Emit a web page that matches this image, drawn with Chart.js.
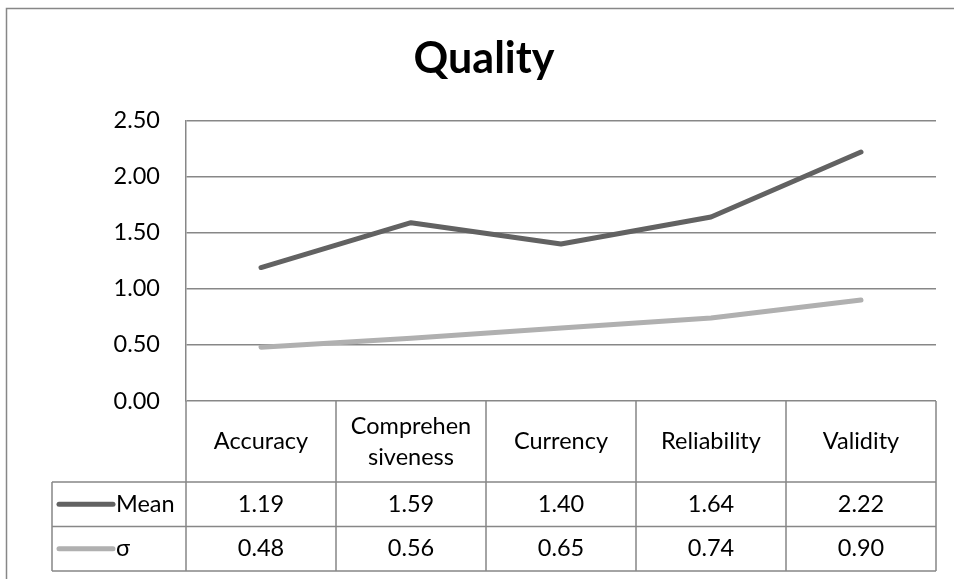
<!DOCTYPE html>
<html>
<head>
<meta charset="utf-8">
<title>Quality</title>
<script src="https://cdn.jsdelivr.net/npm/chart.js@4"></script>
<style>
  html, body { margin: 0; padding: 0; background: #ffffff; }
  #wrap { width: 954px; height: 579px; }
  canvas { display: block; }
</style>
</head>
<body>
<div id="wrap"><canvas id="chart" width="954" height="579"></canvas></div>
<script>
// Categories and series values
const categories = ['Accuracy', ['Comprehen', 'siveness'], 'Currency', 'Reliability', 'Validity'];
const meanValues = [1.19, 1.59, 1.40, 1.64, 2.22];
const sigmaValues = [0.48, 0.56, 0.65, 0.74, 0.90];
const seriesNames = ['Mean', 'σ'];
const yTickValues = [0, 0.5, 1, 1.5, 2, 2.5];

const FONT = "Lato, 'Noto Sans', 'DejaVu Sans', sans-serif";
const TEXT_SIZE = 23.5;
const LINE_GREY = '#878787';
const SERIES_COLORS = ['#626262', '#b0b0b0'];

// Frame around the whole chart (left and top edges are visible)
const framePlugin = {
  id: 'frame',
  beforeDraw(chart) {
    const ctx = chart.ctx;
    ctx.save();
    ctx.strokeStyle = LINE_GREY;
    ctx.lineWidth = 1.5;
    ctx.beginPath();
    ctx.moveTo(6.5, chart.height + 2);
    ctx.lineTo(6.5, 8.5);
    ctx.lineTo(chart.width + 2, 8.5);
    ctx.stroke();
    ctx.restore();
  }
};

// Data table under the plot: category row, then one row per series
const dataTablePlugin = {
  id: 'dataTable',
  afterDraw(chart) {
    const ctx = chart.ctx;
    const x = chart.scales.x;
    const area = chart.chartArea;
    const colW = (area.right - area.left) / categories.length;
    const headerH = 81;
    const rowH = 44.5;
    const legendLeft = 52;
    const top = area.bottom;
    const rowsTop = top + headerH;
    const bottom = rowsTop + rowH * seriesNames.length;

    ctx.save();
    ctx.strokeStyle = LINE_GREY;
    ctx.lineWidth = 1.5;
    ctx.beginPath();
    // vertical column boundaries
    for (let i = 0; i <= categories.length; i++) {
      const px = i === categories.length ? area.right : x.getPixelForValue(i) - colW / 2;
      ctx.moveTo(px, top);
      ctx.lineTo(px, bottom);
    }
    // legend cell left edge
    ctx.moveTo(legendLeft, rowsTop);
    ctx.lineTo(legendLeft, bottom);
    // horizontal row lines
    for (let r = 0; r <= seriesNames.length; r++) {
      const py = rowsTop + r * rowH;
      ctx.moveTo(legendLeft, py);
      ctx.lineTo(area.right, py);
    }
    ctx.stroke();

    ctx.fillStyle = '#000000';
    ctx.font = TEXT_SIZE + 'px ' + FONT;
    ctx.textAlign = 'center';
    ctx.textBaseline = 'middle';

    // category labels
    const headMid = top + headerH / 2;
    categories.forEach((c, i) => {
      const cx = x.getPixelForValue(i);
      const lines = Array.isArray(c) ? c : [c];
      const lh = 31;
      lines.forEach((t, k) => {
        ctx.fillText(t, cx, headMid + (k - (lines.length - 1) / 2) * lh);
      });
    });

    // series rows
    const series = [meanValues, sigmaValues];
    series.forEach((vals, r) => {
      const cy = rowsTop + r * rowH + rowH / 2;
      vals.forEach((v, i) => {
        ctx.fillText(v.toFixed(2), x.getPixelForValue(i), cy);
      });
      // legend key
      ctx.save();
      ctx.strokeStyle = SERIES_COLORS[r];
      ctx.lineWidth = 5;
      ctx.lineCap = 'round';
      ctx.beginPath();
      ctx.moveTo(59, cy);
      ctx.lineTo(113, cy);
      ctx.stroke();
      ctx.restore();
      ctx.textAlign = 'left';
      ctx.fillText(seriesNames[r], 116, cy);
      ctx.textAlign = 'center';
    });
    ctx.restore();
  }
};

new Chart(document.getElementById('chart'), {
  type: 'line',
  data: {
    labels: categories,
    datasets: [
      {
        label: seriesNames[0],
        data: meanValues,
        borderColor: SERIES_COLORS[0],
        backgroundColor: SERIES_COLORS[0],
        borderWidth: 5,
        pointRadius: 0,
        tension: 0,
        borderCapStyle: 'round',
        borderJoinStyle: 'round'
      },
      {
        label: seriesNames[1],
        data: sigmaValues,
        borderColor: SERIES_COLORS[1],
        backgroundColor: SERIES_COLORS[1],
        borderWidth: 5,
        pointRadius: 0,
        tension: 0,
        borderCapStyle: 'round',
        borderJoinStyle: 'round'
      }
    ]
  },
  options: {
    responsive: false,
    devicePixelRatio: 1,
    animation: false,
    layout: { padding: { left: 32, right: 18, top: 0, bottom: 178 } },
    plugins: {
      legend: { display: false },
      tooltip: { enabled: false },
      title: {
        display: true,
        text: 'Quality',
        color: '#000000',
        font: { family: FONT, size: 43, weight: 'bold', lineHeight: 1.2 },
        padding: { top: 33, bottom: 36 }
      }
    },
    scales: {
      x: {
        type: 'category',
        offset: true,
        display: false
      },
      y: {
        min: 0,
        max: 2.5,
        afterFit(scale) { scale.width = 154; },
        afterBuildTicks(scale) { scale.ticks = yTickValues.map(v => ({ value: v })); },
        ticks: {
          color: '#000000',
          font: { family: FONT, size: TEXT_SIZE },
          padding: 26,
          callback: v => Number(v).toFixed(2)
        },
        grid: { color: LINE_GREY, lineWidth: 1.5, drawTicks: false },
        border: { display: true, color: LINE_GREY, width: 1.5 }
      }
    }
  },
  plugins: [framePlugin, dataTablePlugin]
});
</script>
</body>
</html>
